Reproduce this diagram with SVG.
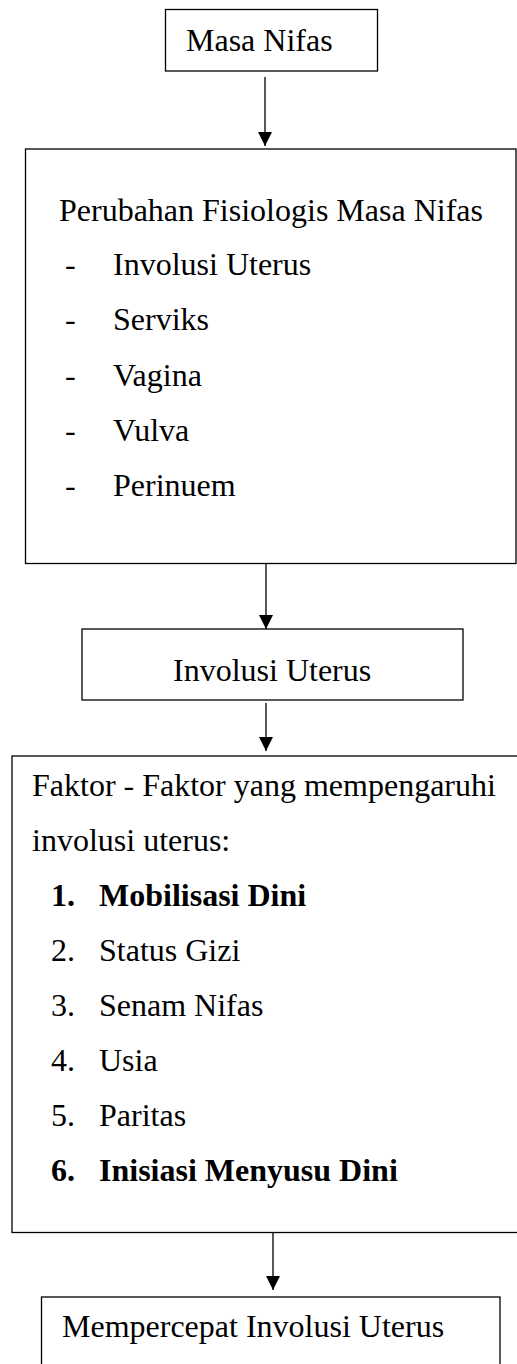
<svg xmlns="http://www.w3.org/2000/svg" width="517" height="1364" viewBox="0 0 517 1364">
<style>
.box{fill:#fff;stroke:#000;stroke-width:1.3}
.t{font-family:"Liberation Serif","Times New Roman",serif;font-size:32px;fill:#000}
.b{font-weight:bold}
.conn line{stroke:#000;stroke-width:1.3}
</style>
<defs>
<marker id="arr" viewBox="0 0 15 16" refX="15" refY="7.5" markerWidth="16" markerHeight="15" markerUnits="userSpaceOnUse" orient="auto">
<path d="M0,0 L15,7.5 L0,15 z" fill="#000"/>
</marker>
</defs>
<rect width="517" height="1364" fill="#fff"/>
<g id="connectors" class="conn">
<line x1="265" y1="77" x2="265" y2="146" marker-end="url(#arr)"/>
<line x1="266" y1="564" x2="266" y2="629" marker-end="url(#arr)"/>
<line x1="266" y1="703" x2="266" y2="751" marker-end="url(#arr)"/>
<line x1="273" y1="1233" x2="273" y2="1290" marker-end="url(#arr)"/>
</g>
<g id="masa-nifas">
<rect class="box" x="165.5" y="9.5" width="212" height="61.5"/>
<text class="t" x="186" y="51">Masa Nifas</text>
</g>
<g id="perubahan">
<rect class="box" x="25.5" y="149" width="490.5" height="414.5"/>
<text class="t" x="59" y="221">Perubahan Fisiologis Masa Nifas</text>
<text class="t" x="65" y="275">-</text><text class="t" x="113" y="275">Involusi Uterus</text>
<text class="t" x="65" y="330">-</text><text class="t" x="113" y="330">Serviks</text>
<text class="t" x="65" y="386">-</text><text class="t" x="113" y="386">Vagina</text>
<text class="t" x="65" y="441">-</text><text class="t" x="113" y="441">Vulva</text>
<text class="t" x="65" y="496">-</text><text class="t" x="113" y="496">Perinuem</text>
</g>
<g id="involusi">
<rect class="box" x="82" y="629" width="381" height="71"/>
<text class="t" x="173" y="681">Involusi Uterus</text>
</g>
<g id="faktor">
<rect class="box" x="12" y="756" width="530" height="476.5"/>
<text class="t" x="32" y="796">Faktor - Faktor yang mempengaruhi</text>
<text class="t" x="32" y="851">involusi uterus:</text>
<text class="t b" x="51" y="906">1.</text><text class="t b" x="99" y="906">Mobilisasi Dini</text>
<text class="t" x="51" y="961">2.</text><text class="t" x="99" y="961">Status Gizi</text>
<text class="t" x="51" y="1016">3.</text><text class="t" x="99" y="1016">Senam Nifas</text>
<text class="t" x="51" y="1071">4.</text><text class="t" x="99" y="1071">Usia</text>
<text class="t" x="51" y="1126">5.</text><text class="t" x="99" y="1126">Paritas</text>
<text class="t b" x="51" y="1181">6.</text><text class="t b" x="99" y="1181">Inisiasi Menyusu Dini</text>
</g>
<g id="mempercepat">
<rect class="box" x="41.5" y="1297" width="458.5" height="100"/>
<text class="t" x="62" y="1337">Mempercepat Involusi Uterus</text>
</g>
</svg>
